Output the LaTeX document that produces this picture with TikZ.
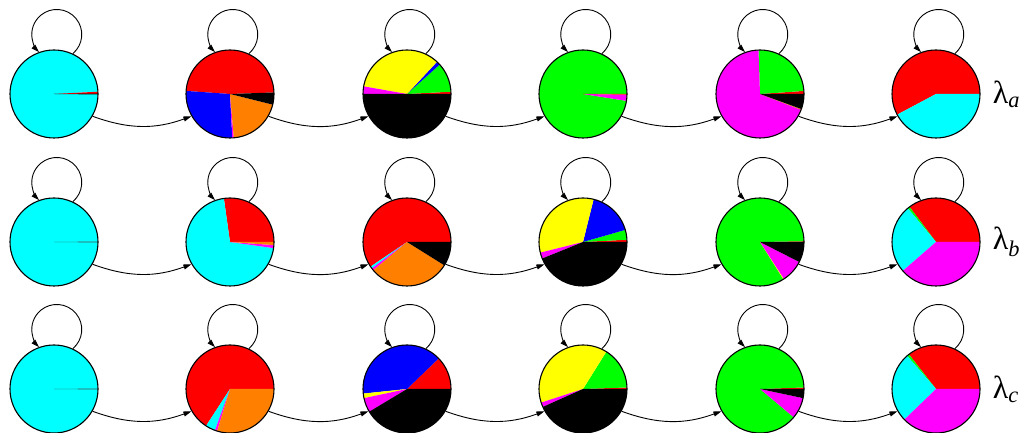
\documentclass[tikz,border=0pt]{standalone}
\usepackage{fontspec}
\usepackage{tikz}
\usetikzlibrary{arrows.meta,positioning}
\newfontfamily\lamfont{Liberation Serif}

\definecolor{cyan}{rgb}{0,1,1}
\definecolor{magenta}{rgb}{1,0,1}
\definecolor{yellow}{rgb}{1,1,0}
\definecolor{green}{rgb}{0,1,0}
\definecolor{orange}{rgb}{1,0.5,0}

\tikzset{
  state/.style={circle, draw, line width=1.1pt, minimum size=88pt, inner sep=0pt},
  flow/.style={line width=0.9pt, -{Triangle[length=8pt,width=5pt]}},
  lam/.style={font=\lamfont\fontsize{32}{32}\selectfont, inner sep=0pt}
}
% pie filled state: name, centre, start/end/colour list
\newcommand{\piestate}[3]{%
  \foreach \s/\e/\col in {#3}
    \fill[\col] (#2) -- ++(\s:44) arc[start angle=\s, end angle=\e, radius=44] -- cycle;
  \node[state] (#1) at (#2) {};
}

\begin{document}
\begin{tikzpicture}[x=1pt, y=1pt]
  \useasboundingbox (0,0) rectangle (1019,433);
  % row a
  \piestate{a1}{54,339}{3/360/cyan, 0/3/red, -0.6/0.6/black}
  \piestate{a2}{230,339}{2/176/red, 176/273/blue, 273/275/magenta, 275/346/orange, 346/362/black}
  \piestate{a3}{407,339}{0/3/red, 3/42/green, 42/47/blue, 47/170/yellow, 170/180/magenta, 180/360/black}
  \piestate{a4}{583,339}{0/351/green, 351/359/magenta, 359/360/red}
  \piestate{a5}{760,339}{0/4/red, 4/92/green, 92/339/magenta, 339/340/orange, 340/360/black}
  \piestate{a6}{936,339}{0/208/red, 208/360/cyan}
  % row b
  \piestate{b1}{54,191}{0/360/cyan, -0.6/0.6/black!70}
  \piestate{b2}{230,191}{0/98/red, 98/352/cyan, 352/356/magenta, 356/360/orange}
  \piestate{b3}{407,191}{0/214/red, 214/217/cyan, 217/220/magenta, 220/328/orange, 328/360/black}
  \piestate{b4}{583,191}{0/3/red, 3/16/green, 16/76/blue, 76/194/yellow, 194/202/magenta, 202/360/black}
  \piestate{b5}{760,191}{0/1/red, 1/302/green, 302/303/yellow, 303/333/magenta, 333/360/black}
  \piestate{b6}{936,191}{0/127/red, 127/130/green, 130/221/cyan, 221/360/magenta}
  % row c
  \piestate{c1}{54,44}{0/360/cyan, -0.6/0.6/black!70}
  \piestate{c2}{230,44}{0/237/red, 237/250/cyan, 250/253/magenta, 253/360/orange}
  \piestate{c3}{407,44}{0/44/red, 44/186/blue, 186/192/yellow, 192/211/magenta, 211/360/black}
  \piestate{c4}{583,44}{0/2/red, 2/58/green, 58/198/yellow, 198/204/magenta, 204/360/black}
  \piestate{c5}{760,44}{0/2/red, 2/320/green, 320/348/magenta, 348/360/black}
  \piestate{c6}{936,44}{0/128/red, 128/131/green, 131/224/cyan, 224/360/magenta}

  % self loops
  \draw[flow] (a1.65) arc[start angle=-50, end angle=225, radius=25];
  \draw[flow] (a2.65) arc[start angle=-50, end angle=225, radius=25];
  \draw[flow] (a3.65) arc[start angle=-50, end angle=225, radius=25];
  \draw[flow] (a4.65) arc[start angle=-50, end angle=225, radius=25];
  \draw[flow] (a5.65) arc[start angle=-50, end angle=225, radius=25];
  \draw[flow] (a6.65) arc[start angle=-50, end angle=225, radius=25];
  \draw[flow] (b1.65) arc[start angle=-50, end angle=225, radius=25];
  \draw[flow] (b2.65) arc[start angle=-50, end angle=225, radius=25];
  \draw[flow] (b3.65) arc[start angle=-50, end angle=225, radius=25];
  \draw[flow] (b4.65) arc[start angle=-50, end angle=225, radius=25];
  \draw[flow] (b5.65) arc[start angle=-50, end angle=225, radius=25];
  \draw[flow] (b6.65) arc[start angle=-50, end angle=225, radius=25];
  \draw[flow] (c1.65) arc[start angle=-50, end angle=225, radius=25];
  \draw[flow] (c2.65) arc[start angle=-50, end angle=225, radius=25];
  \draw[flow] (c3.65) arc[start angle=-50, end angle=225, radius=25];
  \draw[flow] (c4.65) arc[start angle=-50, end angle=225, radius=25];
  \draw[flow] (c5.65) arc[start angle=-50, end angle=225, radius=25];
  \draw[flow] (c6.65) arc[start angle=-50, end angle=225, radius=25];

  % transitions
  \draw[flow] (a1.-30) to[bend right=20] (a2.210);
  \draw[flow] (a2.-30) to[bend right=20] (a3.210);
  \draw[flow] (a3.-30) to[bend right=20] (a4.210);
  \draw[flow] (a4.-30) to[bend right=20] (a5.210);
  \draw[flow] (a5.-30) to[bend right=20] (a6.210);
  \draw[flow] (b1.-30) to[bend right=20] (b2.210);
  \draw[flow] (b2.-30) to[bend right=20] (b3.210);
  \draw[flow] (b3.-30) to[bend right=20] (b4.210);
  \draw[flow] (b4.-30) to[bend right=20] (b5.210);
  \draw[flow] (b5.-30) to[bend right=20] (b6.210);
  \draw[flow] (c1.-30) to[bend right=20] (c2.210);
  \draw[flow] (c2.-30) to[bend right=20] (c3.210);
  \draw[flow] (c3.-30) to[bend right=20] (c4.210);
  \draw[flow] (c4.-30) to[bend right=20] (c5.210);
  \draw[flow] (c5.-30) to[bend right=20] (c6.210);

  % labels
  \node[lam, right=12pt of a6] (la) {λ\textsubscript{\itshape a}};
  \node[lam, right=12pt of b6] (lb) {λ\textsubscript{\itshape b}};
  \node[lam, right=12pt of c6] (lc) {λ\textsubscript{\itshape c}};
\end{tikzpicture}
\end{document}
